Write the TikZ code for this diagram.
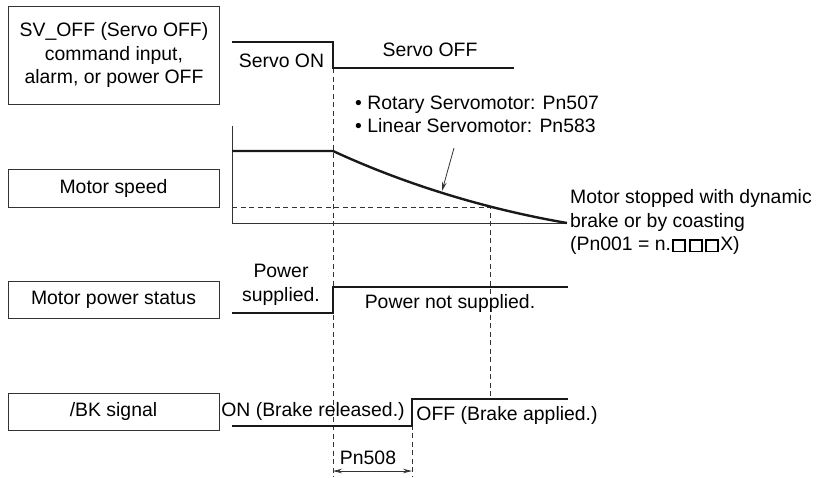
\documentclass[tikz,border=0pt]{standalone}
\usepackage{fontspec}
\setmainfont{Liberation Sans}
\usetikzlibrary{positioning, arrows.meta}
\definecolor{ctrace}{gray}{0.1}
\definecolor{crepere}{gray}{0.2}
\newcommand{\casevide}{\kern1.2pt{\fboxsep=0pt\fboxrule=1.9pt%
  \fbox{\rule{0pt}{9.6pt}\hspace{10.2pt}}}\kern1.2pt}

\begin{document}
\begin{tikzpicture}[x=1pt, y=-1pt,
    font=\fontsize{19.4}{23.5}\selectfont, inner sep=1pt,
    cadre/.style={draw=crepere, line width=0.9pt, minimum width=211pt, align=center},
    trace/.style={ctrace, line width=2.4pt},
    axe/.style={crepere, line width=0.9pt},
    repere/.style={crepere, line width=0.8pt, dash pattern=on 5pt off 3.5pt},
    fleche/.style={crepere, line width=0.8pt}]
  \useasboundingbox (0,0) rectangle (818,477);

  % --- cadres de gauche -------------------------------------------------
  \node[cadre, minimum height=98pt] (cmd) at (114,55)
       {SV\_OFF (Servo OFF)\\command input,\\alarm, or power OFF};
  \node[cadre, minimum height=38pt] (vitesse) at (113.5,188) {Motor speed};
  \node[cadre, minimum height=37pt] (puissance) at (113.5,299.5) {Motor power status};
  \node[cadre, minimum height=37pt] (frein) at (113.5,411.5) {/BK signal};

  % --- lignes de repere, tracees en premier -----------------------------
  \draw[repere] (333,68) -- (333,477);
  \draw[repere] (412,399) -- (412,477);
  \draw[repere] (232,207) -- (490,207) -- (490,399);

  % --- commande SV_OFF --------------------------------------------------
  \draw[trace] (232,42) -| (333,68) -- (514,68);
  \node (son) at (281.5,61) {Servo ON};
  \node (soff) at (430,50) {Servo OFF};

  % --- vitesse moteur ---------------------------------------------------
  \draw[axe] (232,126) -- (232,223) -- (567,223);
  \draw[trace] (232,151) -- (333,151)
        .. controls (400,182) and (480,208) .. (567,223);
  \node[anchor=west] (rotatif) at (354,105) {• Rotary Servomotor: Pn507};
  \node[anchor=west] (lineaire) at (354,126) {• Linear Servomotor: Pn583};
  \coordinate (depart) at (454,148);
  \coordinate (pente) at (442,191);
  \draw[fleche, -{Stealth[length=9pt, width=4.5pt]}] (depart) -- (pente);
  \node[anchor=west, align=left] (arret) at (569,222)
       {Motor stopped with dynamic\\brake or by coasting\\(Pn001 = n.\casevide\casevide\casevide X)};

  % --- etat puissance ---------------------------------------------------
  \draw[trace] (232,313) -- (333,313) |- (568,287);
  \node[align=center] (alim) at (281,285) {Power\\supplied.};
  \node (coupe) at (450,303) {Power not supplied.};

  % --- signal /BK -------------------------------------------------------
  \draw[trace] (232,426) -- (412,426) |- (568,399);
  \node (relache) at (313,411) {ON (Brake released.)};
  \node (serre) at (507,415) {OFF (Brake applied.)};

  % --- retard Pn508 -----------------------------------------------------
  \coordinate (retA) at (333,471);
  \coordinate (retB) at (412,471);
  \draw[fleche, {Stealth[length=9pt, width=4.5pt]}-{Stealth[length=9pt, width=4.5pt]}]
    (retA) -- (retB);
  \node (pn) at (368,457.5) {Pn508};
\end{tikzpicture}
\end{document}
